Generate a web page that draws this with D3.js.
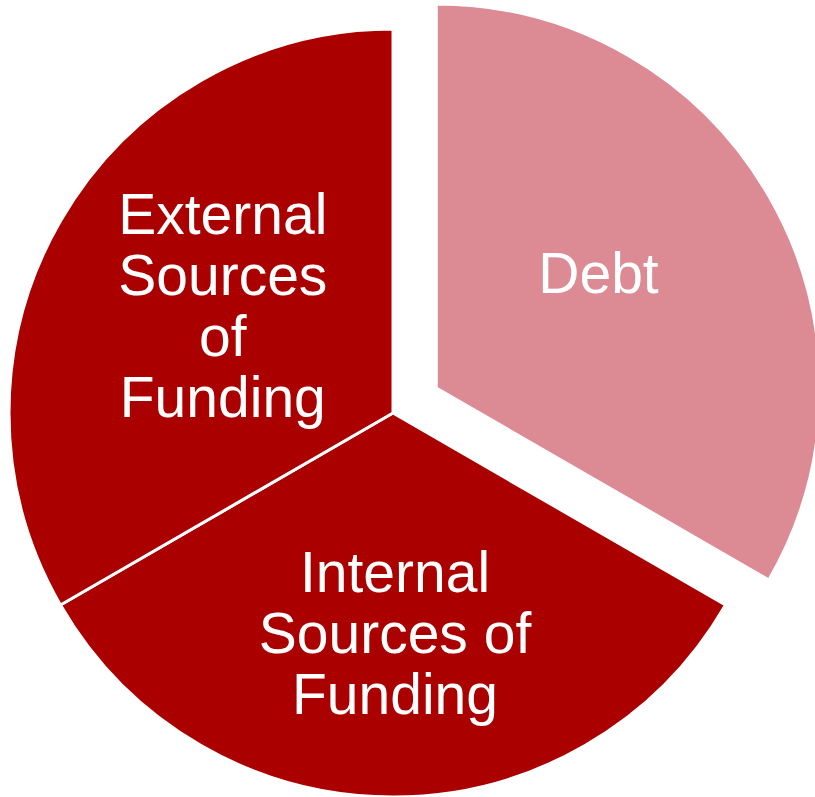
<!DOCTYPE html>
<html>
<head>
<meta charset="utf-8">
<script src="https://cdn.jsdelivr.net/npm/d3@7"></script>
<style>
  html, body { margin: 0; padding: 0; background: #ffffff; }
  svg { display: block; }
</style>
</head>
<body>
<svg id="chart" width="815" height="797"></svg>
<script>
// Funding mix: three equal shares, the debt slice pulled out of the pie
const categories = ["Debt", "Internal Sources of Funding", "External Sources of Funding"];
const values = [1, 1, 1];
const labelLines = [["Debt"], ["Internal", "Sources of", "Funding"], ["External", "Sources", "of", "Funding"]];
const exploded = [true, false, false];

const colors = { Debt: "#DC8A94", "Internal Sources of Funding": "#AA0000", "External Sources of Funding": "#AA0000" };

const width = 815, height = 797;
const cx = 393, cy = 413;
const radius = 384;
const explodeDist = 50;
const fontSize = 57, lineGap = 61, capHalf = 20.5;

const svg = d3.select("#chart");
const g = svg.append("g").attr("transform", `translate(${cx},${cy})`);

const pie = d3.pie().sort(null).value(d => d.value);
const arc = d3.arc().innerRadius(0).outerRadius(radius);
const labelArc = d3.arc().innerRadius(200).outerRadius(200);

const data = categories.map((c, i) => ({ name: c, value: values[i], lines: labelLines[i], out: exploded[i] }));
const arcs = pie(data);

// shift of an exploded slice along its middle angle
function offset(d) {
  if (!d.data.out) return [0, 0];
  const mid = (d.startAngle + d.endAngle) / 2;
  return [Math.sin(mid) * explodeDist, -Math.cos(mid) * explodeDist];
}

// small nudges so each text block sits where the layout puts it
const labelNudge = {
  "Debt": [-11, -16],
  "Internal Sources of Funding": [2, 19],
  "External Sources of Funding": [3, -8]
};

const slice = g.selectAll("g.slice")
  .data(arcs)
  .join("g")
  .attr("class", "slice")
  .attr("transform", d => { const o = offset(d); return `translate(${o[0]},${o[1]})`; });

slice.append("path")
  .attr("d", arc)
  .attr("fill", d => colors[d.data.name])
  .attr("stroke", "#ffffff")
  .attr("stroke-width", 3)
  .attr("stroke-linejoin", "miter");

slice.append("text")
  .attr("text-anchor", "middle")
  .attr("fill", "#ffffff")
  .style("font-family", "'Liberation Sans', Arial, sans-serif")
  .style("font-size", fontSize + "px")
  .each(function (d) {
    const c = labelArc.centroid(d);
    const n = labelNudge[d.data.name];
    const x = c[0] + n[0];
    const yc = c[1] + n[1];
    const lines = d.data.lines;
    const first = yc - (lines.length - 1) * lineGap / 2 + capHalf;
    d3.select(this).selectAll("tspan")
      .data(lines)
      .join("tspan")
      .attr("x", x)
      .attr("y", (t, i) => first + i * lineGap)
      .text(t => t);
  });
</script>
</body>
</html>
